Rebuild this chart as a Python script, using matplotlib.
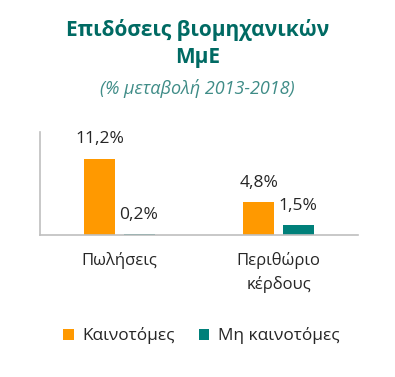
import matplotlib
matplotlib.use("Agg")
import matplotlib.pyplot as plt
import numpy as np

categories = ["Πωλήσεις", "Περιθώριο\nκέρδους"]
series_names = ["Καινοτόμες", "Μη καινοτόμες"]
innovative = [11.2, 4.8]
non_innovative = [0.2, 1.5]
labels_innov = ["11,2%", "4,8%"]
labels_non = ["0,2%", "1,5%"]

colors = ["#FF9900", "#00807A"]
txt = "#262626"
plt.rcParams['font.family'] = ['Open Sans', 'DejaVu Sans']

fig = plt.figure(figsize=(3.95, 3.77), dpi=100)
ax = fig.add_axes([40/395, 1-235/377, 318/395, 103/377])

x = np.arange(len(categories))
w = 0.195
off = 0.123
b1 = ax.bar(x - off, innovative, w, color=colors[0], label=series_names[0])
b2 = ax.bar(x + off, non_innovative, w, color=colors[1], label=series_names[1])
for bars, labs in ((b1, labels_innov), (b2, labels_non)):
    for r, l in zip(bars, labs):
        ax.annotate(l, (r.get_x() + r.get_width()/2, r.get_height()),
                    xytext=(0, 8), textcoords="offset points",
                    ha="center", va="bottom", fontsize=12.5, color=txt)

ax.set_xlim(-0.5, 1.5)
ax.set_ylim(0, 15.1)
ax.set_yticks([])
ax.set_xticks(x)
ax.set_xticklabels(categories, fontsize=12, color=txt, linespacing=1.55)
ax.tick_params(axis='x', length=0, pad=12)
for s in ("top", "right"):
    ax.spines[s].set_visible(False)
for s in ("left", "bottom"):
    ax.spines[s].set_color("#BFBFBF")
    ax.spines[s].set_linewidth(1.2)

fig.text(0.5, 1-30/377, "Επιδόσεις βιομηχανικών", ha="center", va="center",
         fontsize=15, fontweight="bold", color="#006A63")
fig.text(0.5, 1-57/377, "ΜμΕ", ha="center", va="center",
         fontsize=15, fontweight="bold", color="#006A63")
fig.text(0.5, 1-88/377, "(% μεταβολή 2013-2018)", ha="center", va="center",
         fontsize=13, style="italic", color="#3F8C87")

leg = fig.legend(handles=[b1, b2], loc="center", bbox_to_anchor=(0.51, 1-336/377),
                 ncol=2, frameon=False, fontsize=12.4, handlelength=0.6,
                 handleheight=0.6, handletextpad=0.5, columnspacing=1.4)
for t in leg.get_texts():
    t.set_color(txt)

fig.savefig("out.png", dpi=100)
